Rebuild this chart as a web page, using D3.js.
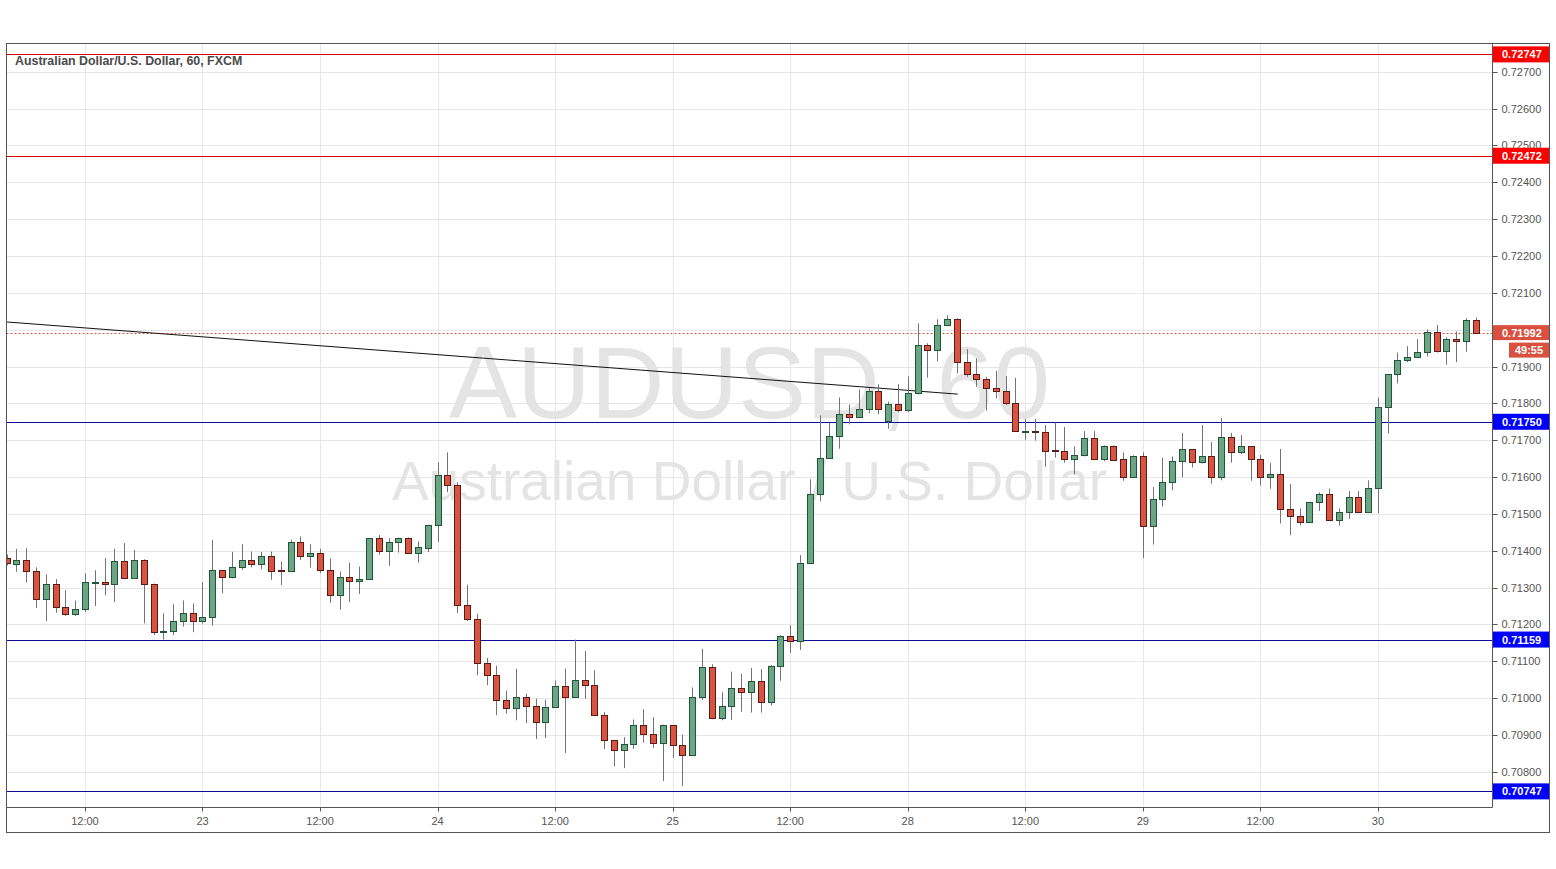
<!DOCTYPE html>
<html>
<head>
<meta charset="utf-8">
<script src="https://cdn.jsdelivr.net/npm/d3@7"></script>
<style>
html,body{margin:0;padding:0;background:#fff;}
svg{display:block;}
</style>
</head>
<body>
<svg id="chart" width="1556" height="869"></svg>
<script>
// ---------------- DATA ----------------
const title = "Australian Dollar/U.S. Dollar, 60, FXCM";
const watermarkSymbol = "AUDUSD, 60";
const watermarkName = "Australian Dollar / U.S. Dollar";

const opens = [
.71380,.71365,.71376,.71344,.71270,.71311,.71248,.71229,.71241,.71314,
.71315,.71311,.71371,.71327,.71374,.71311,.71179,.71183,.71208,.71230,
.71209,.71221,.71347,.71330,.71357,.71374,.71365,.71385,.71347,.71344,
.71425,.71385,.71395,.71349,.71281,.71330,.71319,.71322,.71434,.71398,
.71423,.71434,.71393,.71407,.71470,.71606,.71579,.71254,.71215,.71096,
.71063,.70995,.70973,.71003,.70979,.70936,.70977,.71033,.71003,.71048,
.71036,.70954,.70887,.70860,.70876,.70926,.70903,.70879,.70926,.70873,
.70846,.71002,.71084,.70945,.70979,.71027,.71016,.71047,.70989,.71087,
.71168,.71154,.71366,.71553,.71651,.71711,.71770,.71762,.71784,.71833,
.71751,.71797,.71781,.71827,.71957,.71944,.72012,.72028,.71911,.71881,
.71865,.71843,.71833,.71800,.71724,.71726,.71721,.71674,.71670,.71648,
.71659,.71705,.71648,.71683,.71648,.71599,.71656,.71466,.71540,.71586,
.71643,.71675,.71640,.71656,.71599,.71708,.71667,.71684,.71648,.71599,
.71607,.71512,.71493,.71477,.71531,.71553,.71483,.71504,.71545,.71504,
.71569,.71789,.71879,.71919,.71925,.71938,.71993,.71943,.71974,.71968,
.72025];
const highs = [
.71390,.71405,.71407,.71355,.71336,.71323,.71293,.71265,.71339,.71347,
.71380,.71405,.71421,.71402,.71377,.71311,.71230,.71255,.71265,.71257,
.71315,.71429,.71347,.71397,.71418,.71398,.71397,.71398,.71371,.71430,
.71439,.71418,.71405,.71379,.71344,.71368,.71357,.71434,.71443,.71434,
.71436,.71436,.71425,.71471,.71640,.71667,.71586,.71308,.71229,.71109,
.71088,.71021,.71080,.71012,.70999,.70996,.71048,.71080,.71159,.71128,
.71076,.70962,.70887,.70894,.70942,.70970,.70948,.70928,.70926,.70901,
.71029,.71134,.71092,.71016,.71072,.71066,.71082,.71079,.71090,.71171,
.71198,.71388,.71594,.71767,.71748,.71816,.71797,.71838,.71841,.71852,
.71805,.71852,.71873,.72017,.71963,.72028,.72039,.72031,.71947,.71922,
.71872,.71888,.71874,.71869,.71758,.71758,.71741,.71748,.71736,.71683,
.71725,.71725,.71686,.71686,.71667,.71659,.71667,.71573,.71652,.71656,
.71720,.71675,.71741,.71695,.71760,.71720,.71714,.71684,.71660,.71638,
.71676,.71581,.71515,.71531,.71558,.71569,.71515,.71562,.71562,.71591,
.71815,.71879,.71938,.71955,.71974,.72001,.72013,.71979,.71995,.72031,
.72033];
const lows = [
.71360,.71343,.71314,.71245,.71209,.71232,.71223,.71223,.71234,.71250,
.71279,.71261,.71327,.71327,.71203,.71171,.71159,.71171,.71194,.71179,
.71202,.71197,.71285,.71325,.71348,.71355,.71350,.71321,.71307,.71344,
.71375,.71354,.71339,.71259,.71240,.71261,.71283,.71322,.71389,.71359,
.71395,.71393,.71368,.71396,.71423,.71559,.71231,.71209,.71062,.71035,
.70954,.70958,.70940,.70932,.70889,.70892,.70977,.70851,.71001,.70998,
.70951,.70862,.70815,.70810,.70862,.70879,.70865,.70775,.70838,.70761,
.70846,.70995,.70943,.70940,.70941,.70963,.70961,.70961,.70980,.71047,
.71123,.71131,.71366,.71534,.71651,.71677,.71743,.71762,.71773,.71770,
.71731,.71776,.71776,.71824,.71870,.71914,.72009,.71881,.71872,.71845,
.71780,.71813,.71795,.71724,.71701,.71699,.71628,.71653,.71639,.71607,
.71656,.71648,.71643,.71644,.71590,.71597,.71380,.71417,.71520,.71565,
.71599,.71626,.71637,.71582,.71591,.71639,.71662,.71590,.71577,.71568,
.71474,.71442,.71469,.71477,.71508,.71483,.71468,.71487,.71502,.71504,
.71502,.71718,.71854,.71912,.71925,.71927,.71938,.71905,.71912,.71940,
.71992];
const closes = [
.71366,.71376,.71344,.71270,.71311,.71248,.71229,.71241,.71314,.71315,
.71311,.71371,.71327,.71374,.71311,.71179,.71183,.71208,.71230,.71209,
.71221,.71347,.71330,.71357,.71374,.71365,.71385,.71345,.71344,.71425,
.71385,.71395,.71349,.71281,.71330,.71319,.71322,.71434,.71398,.71423,
.71434,.71393,.71409,.71470,.71606,.71579,.71254,.71215,.71096,.71063,
.70995,.70973,.71003,.70979,.70936,.70977,.71033,.71003,.71048,.71036,
.70954,.70887,.70860,.70876,.70926,.70903,.70879,.70926,.70873,.70846,
.71003,.71084,.70945,.70979,.71027,.71016,.71047,.70989,.71087,.71168,
.71154,.71366,.71553,.71651,.71711,.71770,.71762,.71784,.71833,.71786,
.71797,.71781,.71827,.71957,.71944,.72012,.72028,.71911,.71881,.71865,
.71843,.71833,.71800,.71724,.71726,.71722,.71672,.71671,.71648,.71659,
.71705,.71648,.71683,.71647,.71599,.71656,.71466,.71540,.71586,.71643,
.71675,.71640,.71656,.71599,.71708,.71667,.71684,.71648,.71599,.71607,
.71512,.71493,.71477,.71531,.71553,.71483,.71504,.71545,.71504,.71569,
.71789,.71879,.71919,.71925,.71938,.71993,.71943,.71974,.71968,.72025,
.71992];

const timeTickIndex = [8, 20, 32, 44, 56, 68, 80, 92, 104, 116, 128, 140];
const timeTickLabels = ["12:00","23","12:00","24","12:00","25","12:00","28","12:00","29","12:00","30"];

const priceTicks = [0.708,0.709,0.710,0.711,0.712,0.713,0.714,0.715,0.716,0.717,
                    0.718,0.719,0.720,0.721,0.722,0.723,0.724,0.725,0.726,0.727];

const redLevels = [0.72747, 0.72472];
const blueLevels = [0.71750, 0.71159, 0.70747];
const lastPrice = 0.71992;
const countdown = "49:55";

const trendIndex = [-0.06, 97.1];
const trendValue = [0.72021, 0.71825];

// ---------------- LAYOUT ----------------
const plot = {left: 6.5, top: 43.5, right: 1492.5, bottom: 807.5};
const outer = {right: 1549.5, bottom: 832.5};

const svg = d3.select("#chart");
const x = d3.scaleLinear().domain([0, opens.length - 1]).range([6.6, 6.6 + 9.795 * (opens.length - 1)]);
const y = d3.scaleLinear().domain([0.707046, 0.727779]).range([807, 43]);

const font = "'Liberation Sans', Arial, sans-serif";

svg.append("defs").append("clipPath").attr("id","clip")
  .append("rect").attr("x", plot.left).attr("y", plot.top)
  .attr("width", plot.right - plot.left).attr("height", plot.bottom - plot.top);

const px = v => Math.round(y(v)) + 0.5;

// grid
const grid = svg.append("g").attr("clip-path","url(#clip)");
grid.selectAll("line.h").data(priceTicks).join("line")
  .attr("x1", plot.left).attr("x2", plot.right)
  .attr("y1", d => px(d)).attr("y2", d => px(d))
  .attr("stroke", "#e7e7e7").attr("stroke-width", 1);
grid.selectAll("line.v").data(timeTickIndex).join("line")
  .attr("x1", d => Math.round(x(d)) + 0.5).attr("x2", d => Math.round(x(d)) + 0.5)
  .attr("y1", plot.top).attr("y2", plot.bottom)
  .attr("stroke", "#e7e7e7").attr("stroke-width", 1);

// watermark
const cx = (plot.left + plot.right) / 2;
svg.append("text").attr("x", cx).attr("y", 418).attr("text-anchor","middle")
  .attr("font-family", font).attr("font-size", 102).attr("fill", "#e4e4e4")
  .text(watermarkSymbol);
svg.append("text").attr("x", cx).attr("y", 500).attr("text-anchor","middle")
  .attr("font-family", font).attr("font-size", 55).attr("fill", "#e4e4e4")
  .text(watermarkName);

// title
svg.append("text").attr("x", 15).attr("y", 65)
  .attr("font-family", font).attr("font-size", 12.4).attr("font-weight","bold")
  .attr("fill", "#4a4a4a").text(title);

const chartG = svg.append("g").attr("clip-path","url(#clip)");

// level lines
chartG.selectAll("line.red").data(redLevels).join("line")
  .attr("x1", plot.left).attr("x2", plot.right)
  .attr("y1", d => px(d)).attr("y2", d => px(d))
  .attr("stroke", "#d40000").attr("stroke-width", 1);
chartG.selectAll("line.blue").data(blueLevels).join("line")
  .attr("x1", plot.left).attr("x2", plot.right)
  .attr("y1", d => px(d)).attr("y2", d => px(d))
  .attr("stroke", "#0a0aa0").attr("stroke-width", 1);

// last price dotted line
chartG.append("line")
  .attr("x1", plot.left).attr("x2", plot.right)
  .attr("y1", px(lastPrice)).attr("y2", px(lastPrice))
  .attr("stroke", "#d25a48").attr("stroke-width", 1).attr("stroke-dasharray","2,2");

// trend line
chartG.append("line")
  .attr("x1", x(trendIndex[0])).attr("y1", y(trendValue[0]))
  .attr("x2", x(trendIndex[1])).attr("y2", y(trendValue[1]))
  .attr("stroke", "#111").attr("stroke-width", 1);

// candles
const idx = d3.range(opens.length);
const cxp = i => Math.round(x(i));
chartG.selectAll("line.wick").data(idx).join("line")
  .attr("x1", i => cxp(i) + 0.5).attr("x2", i => cxp(i) + 0.5)
  .attr("y1", i => y(highs[i])).attr("y2", i => y(lows[i]))
  .attr("stroke", "#737375").attr("stroke-width", 1);
chartG.selectAll("rect.body").data(idx).join("rect")
  .attr("x", i => cxp(i) - 2.5)
  .attr("width", 6)
  .attr("y", i => Math.round(y(Math.max(opens[i], closes[i]))) + 0.5)
  .attr("height", i => Math.max(1, Math.round(y(Math.min(opens[i], closes[i]))) - Math.round(y(Math.max(opens[i], closes[i])))))
  .attr("fill", i => closes[i] >= opens[i] ? "#6ba583" : "#d75442")
  .attr("stroke", i => closes[i] >= opens[i] ? "#225437" : "#5b1a13")
  .attr("stroke-width", 1);

// frames
svg.append("rect").attr("x", plot.left).attr("y", plot.top)
  .attr("width", outer.right - plot.left).attr("height", outer.bottom - plot.top)
  .attr("fill","none").attr("stroke","#555");
svg.append("line").attr("x1", plot.right).attr("x2", plot.right)
  .attr("y1", plot.top).attr("y2", plot.bottom).attr("stroke","#555");
svg.append("line").attr("x1", plot.left).attr("x2", plot.right)
  .attr("y1", plot.bottom).attr("y2", plot.bottom).attr("stroke","#555");

// price axis
const pa = svg.append("g");
pa.selectAll("line").data(priceTicks).join("line")
  .attr("x1", plot.right).attr("x2", plot.right + 5)
  .attr("y1", d => px(d)).attr("y2", d => px(d)).attr("stroke","#555");
pa.selectAll("text").data(priceTicks).join("text")
  .attr("x", plot.right + 9).attr("y", d => y(d) + 4)
  .attr("font-family", font).attr("font-size", 11).attr("fill","#555")
  .text(d => d.toFixed(5));

// time axis
const ta = svg.append("g");
ta.selectAll("line").data(timeTickIndex).join("line")
  .attr("x1", d => Math.round(x(d)) + 0.5).attr("x2", d => Math.round(x(d)) + 0.5)
  .attr("y1", plot.bottom).attr("y2", plot.bottom + 4).attr("stroke","#555");
ta.selectAll("text").data(timeTickIndex).join("text")
  .attr("x", d => x(d)).attr("y", 825).attr("text-anchor","middle")
  .attr("font-family", font).attr("font-size", 11).attr("fill","#555")
  .text((d, k) => timeTickLabels[k]);

// level label boxes
function box(v, color, label, x0, x1, h) {
  const yc = y(v);
  svg.append("rect").attr("x", x0).attr("y", yc - h/2).attr("width", x1 - x0).attr("height", h).attr("fill", color);
  svg.append("text").attr("x", x0 + 9).attr("y", yc + 4)
    .attr("font-family", font).attr("font-size", 11).attr("font-weight","bold").attr("fill","#fff").text(label);
}
redLevels.forEach(v => box(v, "#ff0000", v.toFixed(5), 1493, 1549, 16));
blueLevels.forEach(v => box(v, "#0000ff", v.toFixed(5), 1493, 1549, 16));
box(lastPrice, "#d9503f", lastPrice.toFixed(5), 1493, 1549, 15);
// countdown
{
  const yc = y(lastPrice) + 17.5;
  svg.append("rect").attr("x", 1509).attr("y", yc - 7.5).attr("width", 40).attr("height", 15).attr("fill", "#d9503f");
  svg.append("text").attr("x", 1529).attr("y", yc + 4).attr("text-anchor","middle")
    .attr("font-family", font).attr("font-size", 11).attr("font-weight","bold").attr("fill","#fff").text(countdown);
}
</script>
</body>
</html>
